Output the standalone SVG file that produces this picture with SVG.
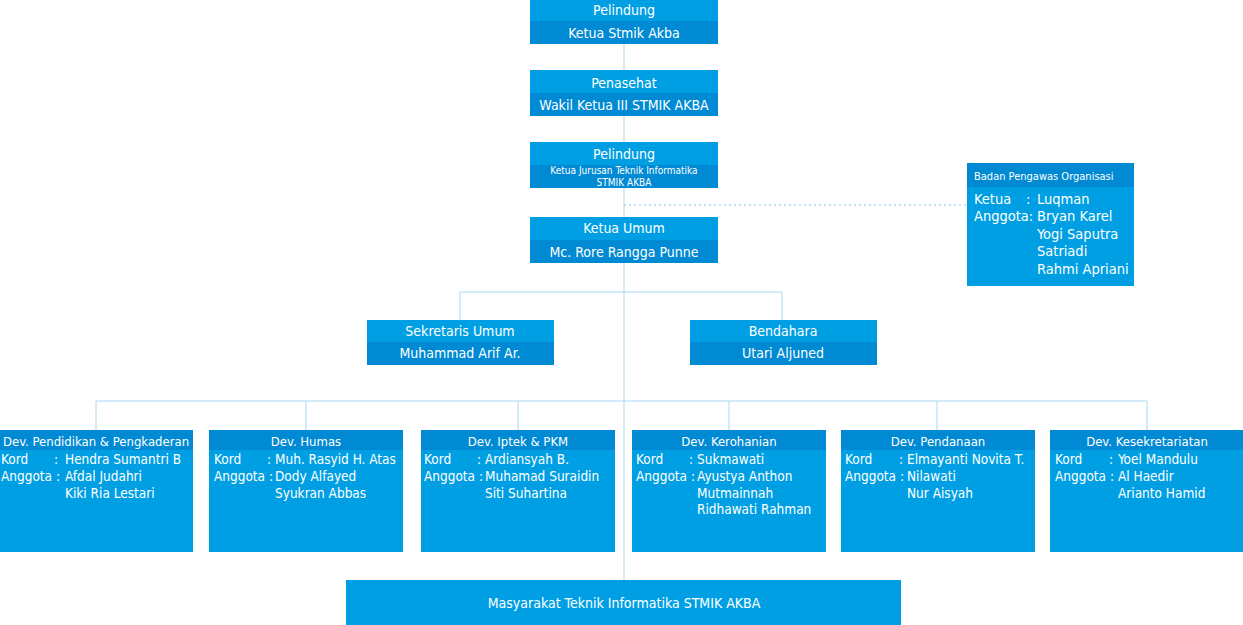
<svg xmlns="http://www.w3.org/2000/svg" width="1243" height="625" viewBox="0 0 1243 625">
<style>
.lt{fill:#009fe4}
.dk{fill:#008ad4}
.ln{stroke:#a9d8f2;stroke-width:1;fill:none}
.dot{stroke:#7fc4ea;stroke-width:1.2;stroke-dasharray:2 3;fill:none}
text{font-family:"Liberation Sans Narrow","DejaVu Sans Condensed","Liberation Sans",sans-serif;fill:#ffffff}
.c{text-anchor:middle;font-size:14px}
.s{font-size:10px;text-anchor:middle}
.h{font-size:13px;text-anchor:middle}
.r{font-size:13.5px}
.b{font-size:14.5px}
</style>
<rect width="1243" height="625" fill="#ffffff"/>
<g id="connectors">
<line class="ln" x1="624" y1="44" x2="624" y2="580"/>
<line class="dot" x1="624" y1="205" x2="967" y2="205"/>
<polyline class="ln" points="460,320 460,292 782,292 782,320"/>
<line class="ln" x1="96" y1="401" x2="1147" y2="401"/>
<line class="ln" x1="96" y1="401" x2="96" y2="430"/>
<line class="ln" x1="306" y1="401" x2="306" y2="430"/>
<line class="ln" x1="518" y1="401" x2="518" y2="430"/>
<line class="ln" x1="729" y1="401" x2="729" y2="430"/>
<line class="ln" x1="937" y1="401" x2="937" y2="430"/>
<line class="ln" x1="1147" y1="401" x2="1147" y2="430"/>
</g>
<g id="pelindung1">
<rect class="lt" x="530" y="0" width="188" height="21"/><rect class="dk" x="530" y="21" width="188" height="23"/>
<text class="c" x="624" y="15">Pelindung</text><text class="c" x="624" y="38">Ketua Stmik Akba</text>
</g>
<g id="penasehat">
<rect class="lt" x="530" y="70" width="188" height="23"/><rect class="dk" x="530" y="93" width="188" height="23"/>
<text class="c" x="624" y="88">Penasehat</text><text class="c" x="624" y="110">Wakil Ketua III STMIK AKBA</text>
</g>
<g id="pelindung2">
<rect class="lt" x="530" y="142" width="188" height="23"/><rect class="dk" x="530" y="165" width="188" height="23"/>
<text class="c" x="624" y="159">Pelindung</text>
<text class="s" x="624" y="174">Ketua Jurusan Teknik Informatika</text><text class="s" x="624" y="186">STMIK AKBA</text>
</g>
<g id="ketua-umum">
<rect class="lt" x="530" y="217" width="188" height="23"/><rect class="dk" x="530" y="240" width="188" height="23"/>
<text class="c" x="624" y="233">Ketua Umum</text><text class="c" x="624" y="257">Mc. Rore Rangga Punne</text>
</g>
<g id="bpo">
<rect class="lt" x="967" y="163" width="167" height="123"/><rect class="dk" x="967" y="163" width="167" height="24"/>
<text x="974" y="180" style="font-size:11px">Badan Pengawas Organisasi</text>
<text class="b" x="974" y="204">Ketua</text><text class="b" x="1026" y="204">:</text><text class="b" x="1037" y="204">Luqman</text>
<text class="b" x="974" y="221">Anggota:</text><text class="b" x="1037" y="221">Bryan Karel</text>
<text class="b" x="1037" y="239">Yogi Saputra</text>
<text class="b" x="1037" y="256">Satriadi</text>
<text class="b" x="1037" y="274">Rahmi Apriani</text>
</g>
<g id="sekretaris">
<rect class="lt" x="367" y="320" width="187" height="22"/><rect class="dk" x="367" y="342" width="187" height="23"/>
<text class="c" x="460" y="336">Sekretaris Umum</text><text class="c" x="460" y="358">Muhammad Arif Ar.</text>
</g>
<g id="bendahara">
<rect class="lt" x="690" y="320" width="187" height="22"/><rect class="dk" x="690" y="342" width="187" height="23"/>
<text class="c" x="783" y="336">Bendahara</text><text class="c" x="783" y="358">Utari Aljuned</text>
</g>
<g id="dev-pendidikan">
<rect class="lt" x="0" y="430" width="193" height="122"/><rect class="dk" x="0" y="430" width="193" height="20"/>
<text class="h" x="96" y="446">Dev. Pendidikan &amp; Pengkaderan</text>
<text class="r" x="1" y="464">Kord</text><text class="r" x="54" y="464">:</text><text class="r" x="65" y="464">Hendra Sumantri B</text>
<text class="r" x="1" y="481">Anggota :</text><text class="r" x="65" y="481">Afdal Judahri</text>
<text class="r" x="65" y="498">Kiki Ria Lestari</text>
</g>
<g id="dev-humas">
<rect class="lt" x="209" y="430" width="194" height="122"/><rect class="dk" x="209" y="430" width="194" height="20"/>
<text class="h" x="306" y="446">Dev. Humas</text>
<text class="r" x="214" y="464">Kord</text><text class="r" x="267" y="464">:</text><text class="r" x="275" y="464">Muh. Rasyid H. Atas</text>
<text class="r" x="214" y="481">Anggota :</text><text class="r" x="275" y="481">Dody Alfayed</text>
<text class="r" x="275" y="498">Syukran Abbas</text>
</g>
<g id="dev-iptek">
<rect class="lt" x="421" y="430" width="194" height="122"/><rect class="dk" x="421" y="430" width="194" height="20"/>
<text class="h" x="518" y="446">Dev. Iptek &amp; PKM</text>
<text class="r" x="424" y="464">Kord</text><text class="r" x="477" y="464">:</text><text class="r" x="485" y="464">Ardiansyah B.</text>
<text class="r" x="424" y="481">Anggota :</text><text class="r" x="485" y="481">Muhamad Suraidin</text>
<text class="r" x="485" y="498">Siti Suhartina</text>
</g>
<g id="dev-kerohanian">
<rect class="lt" x="632" y="430" width="194" height="122"/><rect class="dk" x="632" y="430" width="194" height="20"/>
<text class="h" x="729" y="446">Dev. Kerohanian</text>
<text class="r" x="636" y="464">Kord</text><text class="r" x="689" y="464">:</text><text class="r" x="697" y="464">Sukmawati</text>
<text class="r" x="636" y="481">Anggota :</text><text class="r" x="697" y="481">Ayustya Anthon</text>
<text class="r" x="697" y="498">Mutmainnah</text>
<text class="r" x="697" y="514">Ridhawati Rahman</text>
</g>
<g id="dev-pendanaan">
<rect class="lt" x="841" y="430" width="194" height="122"/><rect class="dk" x="841" y="430" width="194" height="20"/>
<text class="h" x="938" y="446">Dev. Pendanaan</text>
<text class="r" x="845" y="464">Kord</text><text class="r" x="899" y="464">:</text><text class="r" x="907" y="464">Elmayanti Novita T.</text>
<text class="r" x="845" y="481">Anggota :</text><text class="r" x="907" y="481">Nilawati</text>
<text class="r" x="907" y="498">Nur Aisyah</text>
</g>
<g id="dev-kesekretariatan">
<rect class="lt" x="1050" y="430" width="193" height="122"/><rect class="dk" x="1050" y="430" width="193" height="20"/>
<text class="h" x="1147" y="446">Dev. Kesekretariatan</text>
<text class="r" x="1055" y="464">Kord</text><text class="r" x="1109" y="464">:</text><text class="r" x="1118" y="464">Yoel Mandulu</text>
<text class="r" x="1055" y="481">Anggota :</text><text class="r" x="1118" y="481">Al Haedir</text>
<text class="r" x="1118" y="498">Arianto Hamid</text>
</g>
<g id="masyarakat">
<rect class="lt" x="346" y="580" width="555" height="45"/>
<text class="c" x="624" y="608">Masyarakat Teknik Informatika STMIK AKBA</text>
</g>
</svg>
